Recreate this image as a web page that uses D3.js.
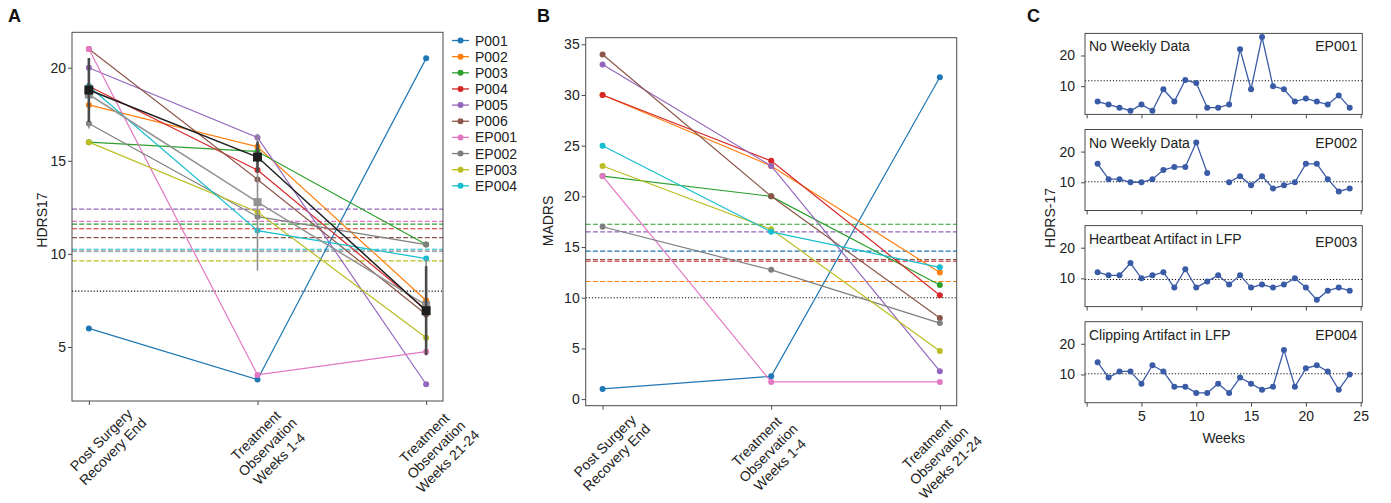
<!DOCTYPE html>
<html><head><meta charset="utf-8">
<script src="https://cdn.jsdelivr.net/npm/d3@7"></script>
<style>
body{margin:0;background:#fff}
svg{font-family:"Liberation Sans",Arial,Helvetica,sans-serif;display:block}
</style>
</head><body>
<svg id="chart" width="1391" height="503"></svg>
<script>
// ---------------- DATA ----------------
const patients = ["P001","P002","P003","P004","P005","P006","EP001","EP002","EP003","EP004"];
const patientColors = ["#1f77b4","#ff7f0e","#2ca02c","#d62728","#9467bd","#8c564b","#e377c2","#7f7f7f","#bcbd22","#17becf"];
const stages = ["Post Surgery\nRecovery End","Treatment\nObservation\nWeeks 1-4","Treatment\nObservation\nWeeks 21-24"];

// HDRS17 per stage (order of patients)
const hdrsPost     = [6, 18, 16, 19, 20, 21, 21, 17, 16, 19];
const hdrsWk1to4   = [3.25, 15.75, 15.5, 14.5, 16.25, 14, 3.5, 12, 12.25, 11.25];
const hdrsWk21to24 = [20.5, 7.5, 10.5, 7, 3, 6.75, 4.75, 10.5, 5.5, 9.75];
// group summaries (mean, std)
const meanBlack = [18.8, 15.2, 6.95];
const sdBlack   = [1.72, 0.83, 2.39];
const meanGray  = [18.56, 12.78, 7.25];
const sdGray    = [1.83, 3.68, 2.47];
// per-patient HDRS thresholds (dashed)
const hdrsThreshIds  = ["P005","EP001","P003","P004","P006","EP004","EP002","EP003"];
const hdrsThreshVals = [12.4, 11.75, 11.6, 11.35, 10.87, 10.25, 10.15, 9.62];
const hdrsResponse = 8;
const hdrsTicks = [5, 10, 15, 20];

// MADRS per stage
const madrsPost     = [1, 30, 22, 30, 33, 34, 22, 17, 23, 25];
const madrsWk1to4   = [2.25, 23, 20, 23.5, 23, 20, 1.7, 12.75, 16.75, 16.5];
const madrsWk21to24 = [31.75, 12.5, 11.25, 10.25, 2.75, 8, 1.7, 7.5, 4.75, 13];
const madrsThreshIds  = ["P003","P005","P001","P006","P004","P002"];
const madrsThreshVals = [17.25, 16.5, 14.6, 13.75, 13.6, 11.6];
const madrsResponse = 10;
const madrsTicks = [0, 5, 10, 15, 20, 25, 30, 35];

// Weekly HDRS-17 for EP patients
const weeks = d3.range(1, 25);
const ep001Weekly = [5,4,3,2,4,2,9,5,12,11,3,3,4,22,9,26,10,9,5,6,5,4,7,3];
const ep002Weekly = [16,11,11,10,10,11,14,15,15,23,13,null,10,12,9,12,8,9,10,16,16,11,7,8];
const ep003Weekly = [12,11,11,15,10,11,12,7,13,7,9,11,8,11,7,8,7,8,10,7,3,6,7,6];
const ep004Weekly = [14,9,11,11,7,13,11,6,6,4,4,7,4,9,7,5,6,18,6,12,13,11,5,10];
const weeklyIds = ["EP001","EP002","EP003","EP004"];
const weeklyNotes = ["No Weekly Data","No Weekly Data","Heartbeat Artifact in LFP","Clipping Artifact in LFP"];
const weeklyThresh = [11.75, 10.15, 9.62, 10.25];
const weeklyYTicks = [10, 20];
const weeklyXTicks = [0, 5, 10, 15, 20, 25];

// ---------------- DRAW ----------------
const svg = d3.select("#chart");
const FRAME = "#4a4a4a", TXT = "#222";
const colorOf = id => patientColors[patients.indexOf(id)];

function frame(l, t, r, b) {
  svg.append("rect").attr("x", l).attr("y", t).attr("width", r - l).attr("height", b - t)
    .attr("fill", "none").attr("stroke", FRAME).attr("stroke-width", 1);
}
function styleAxis(g) {
  g.select(".domain").remove();
  g.selectAll(".tick line").attr("stroke", FRAME);
  g.selectAll(".tick text").attr("fill", TXT).attr("font-size", 14);
}
function stageLabels(x, offsets, top) {
  stages.forEach((s, i) => {
    const g = svg.append("g");
    const lines = s.split("\n");
    const t = g.append("text").attr("text-anchor", "middle").attr("font-size", 14)
      .attr("fill", TXT).attr("transform", "rotate(-45)");
    lines.forEach((ln, j) => t.append("tspan").attr("x", 0)
      .attr("y", (j - (lines.length - 1) / 2) * 16.5 + 5).text(ln));
    const r = g.node().getBoundingClientRect();
    const cx = (r.left + r.right) / 2;
    g.attr("transform", `translate(${x(i) + offsets[i] - cx},${top - r.top})`);
  });
}
function stagePanel(cfg) {
  const {L, T, R, B, yDomain, ticks, s0, s1, s2, threshIds, threshVals, resp, label, letter, labelOffsets, labelTop} = cfg;
  const x = d3.scaleLinear().domain([-0.1, 2.1]).range([L, R]);
  const y = d3.scaleLinear().domain(yDomain).range([B, T]);
  // threshold lines
  threshIds.forEach((id, k) => {
    svg.append("line").attr("x1", L).attr("x2", R).attr("y1", y(threshVals[k])).attr("y2", y(threshVals[k]))
      .attr("stroke", colorOf(id)).attr("stroke-width", 1.2).attr("stroke-dasharray", "5,2.2");
  });
  svg.append("line").attr("x1", L).attr("x2", R).attr("y1", y(resp)).attr("y2", y(resp))
    .attr("stroke", "#111").attr("stroke-width", 1.1).attr("stroke-dasharray", "1.2,1.9");
  // patient lines
  const line = d3.line().x(d => x(d[0])).y(d => y(d[1]));
  patients.forEach((p, i) => {
    const pts = [[0, s0[i]], [1, s1[i]], [2, s2[i]]];
    svg.append("path").attr("d", line(pts)).attr("fill", "none")
      .attr("stroke", patientColors[i]).attr("stroke-width", 1.2);
    svg.selectAll(null).data(pts).enter().append("circle")
      .attr("cx", d => x(d[0])).attr("cy", d => y(d[1])).attr("r", 3)
      .attr("fill", patientColors[i]);
  });
  return {x, y};
}

// ---- Panel A ----
const A = stagePanel({L: 72, T: 32.3, R: 443, B: 401, yDomain: [2.1, 21.9], ticks: hdrsTicks,
  s0: hdrsPost, s1: hdrsWk1to4, s2: hdrsWk21to24, threshIds: hdrsThreshIds, threshVals: hdrsThreshVals,
  resp: hdrsResponse});
// summaries
function summary(mean, sd, color, barColor, barW, lineW, size) {
  const idx = [0, 1, 2];
  idx.forEach(i => {
    svg.append("line").attr("x1", A.x(i)).attr("x2", A.x(i))
      .attr("y1", A.y(mean[i] - sd[i])).attr("y2", A.y(mean[i] + sd[i]))
      .attr("stroke", barColor).attr("stroke-width", barW);
  });
  svg.append("path").attr("d", d3.line().x(i => A.x(i)).y(i => A.y(mean[i]))(idx))
    .attr("fill", "none").attr("stroke", color).attr("stroke-width", lineW);
  idx.forEach(i => {
    svg.append("rect").attr("x", A.x(i) - size / 2).attr("y", A.y(mean[i]) - size / 2)
      .attr("width", size).attr("height", size).attr("fill", color);
  });
}
summary(meanGray, sdGray, "#939393", "#8f8f8f", 1.6, 1.5, 8);
summary(meanBlack, sdBlack, "#1e1e1e", "#4a4a4a", 2.6, 1.5, 9);
frame(72, 32.3, 443, 401);
styleAxis(svg.append("g").attr("transform", "translate(72,0)")
  .call(d3.axisLeft(A.y).tickValues(hdrsTicks).tickSize(4).tickPadding(2)));
styleAxis(svg.append("g").attr("transform", "translate(0,401)")
  .call(d3.axisBottom(A.x).tickValues([0, 1, 2]).tickSize(4).tickFormat("")));
stageLabels(A.x, [18, 10, 10], 403);
svg.append("text").attr("transform", "translate(47,220) rotate(-90)").attr("text-anchor", "middle")
  .attr("font-size", 14).attr("fill", TXT).text("HDRS17");
svg.append("text").attr("x", 8).attr("y", 22).attr("font-size", 18).attr("font-weight", "bold")
  .attr("fill", "#111").text("A");

// legend
const leg = svg.append("g");
patients.forEach((p, i) => {
  const yy = 40.5 + i * 16.15;
  leg.append("line").attr("x1", 452).attr("x2", 469).attr("y1", yy).attr("y2", yy)
    .attr("stroke", patientColors[i]).attr("stroke-width", 1.3);
  leg.append("circle").attr("cx", 460.5).attr("cy", yy).attr("r", 3).attr("fill", patientColors[i]);
  leg.append("text").attr("x", 475).attr("y", yy + 5).attr("font-size", 14).attr("fill", TXT).text(p);
});

// ---- Panel B ----
const Bp = stagePanel({L: 585.7, T: 37.7, R: 956.7, B: 405.7, yDomain: [-0.65, 35.65], ticks: madrsTicks,
  s0: madrsPost, s1: madrsWk1to4, s2: madrsWk21to24, threshIds: madrsThreshIds, threshVals: madrsThreshVals,
  resp: madrsResponse});
frame(585.7, 37.7, 956.7, 405.7);
styleAxis(svg.append("g").attr("transform", "translate(585.7,0)")
  .call(d3.axisLeft(Bp.y).tickValues(madrsTicks).tickSize(4).tickPadding(2)));
styleAxis(svg.append("g").attr("transform", "translate(0,405.7)")
  .call(d3.axisBottom(Bp.x).tickValues([0, 1, 2]).tickSize(4).tickFormat("")));
stageLabels(Bp.x, [8, -3, -1], 409);
svg.append("text").attr("transform", "translate(553,221) rotate(-90)").attr("text-anchor", "middle")
  .attr("font-size", 14).attr("fill", TXT).text("MADRS");
svg.append("text").attr("x", 537).attr("y", 22).attr("font-size", 18).attr("font-weight", "bold")
  .attr("fill", "#111").text("B");

// ---- Panel C ----
const CL = 1085, CR = 1362.3, CH = 81;
const cx = d3.scaleLinear().domain([-0.15, 25.15]).range([CL, CR]);
const weeklySeries = [ep001Weekly, ep002Weekly, ep003Weekly, ep004Weekly];
const MARK = "#3a5ba6";
weeklySeries.forEach((vals, k) => {
  const top = 33.4 + k * 96.1, bot = top + CH;
  const cy = d3.scaleLinear().domain([0.8, 27.2]).range([bot, top]);
  svg.append("line").attr("x1", CL).attr("x2", CR).attr("y1", cy(weeklyThresh[k])).attr("y2", cy(weeklyThresh[k]))
    .attr("stroke", "#111").attr("stroke-width", 1.1).attr("stroke-dasharray", "1.2,1.9");
  const pts = weeks.map((w, i) => [w, vals[i]]);
  svg.append("path").attr("d", d3.line().defined(d => d[1] != null).x(d => cx(d[0])).y(d => cy(d[1]))(pts))
    .attr("fill", "none").attr("stroke", MARK).attr("stroke-width", 1.3);
  svg.selectAll(null).data(pts.filter(d => d[1] != null)).enter().append("circle")
    .attr("cx", d => cx(d[0])).attr("cy", d => cy(d[1])).attr("r", 3).attr("fill", MARK);
  frame(CL, top, CR, bot);
  styleAxis(svg.append("g").attr("transform", `translate(${CL},0)`)
    .call(d3.axisLeft(cy).tickValues(weeklyYTicks).tickSize(4).tickPadding(6)));
  styleAxis(svg.append("g").attr("transform", `translate(0,${bot})`)
    .call(d3.axisBottom(cx).tickValues(weeklyXTicks).tickSize(4).tickPadding(4)
      .tickFormat(d => (k === 3 && d !== 0) ? d : "")));
  svg.append("text").attr("x", CL + 4).attr("y", top + 18).attr("font-size", 14).attr("fill", TXT).text(weeklyNotes[k]);
  svg.append("text").attr("x", CR - 5).attr("y", top + (k === 2 ? 21 : 18)).attr("text-anchor", "end")
    .attr("font-size", 14).attr("fill", TXT).text(weeklyIds[k]);
});
svg.append("text").attr("transform", "translate(1055,218) rotate(-90)").attr("text-anchor", "middle")
  .attr("font-size", 14).attr("fill", TXT).text("HDRS-17");
svg.append("text").attr("x", (CL + CR) / 2).attr("y", 442.5).attr("text-anchor", "middle")
  .attr("font-size", 14).attr("fill", TXT).text("Weeks");
svg.append("text").attr("x", 1027).attr("y", 22).attr("font-size", 18).attr("font-weight", "bold")
  .attr("fill", "#111").text("C");
</script>
</body></html>
